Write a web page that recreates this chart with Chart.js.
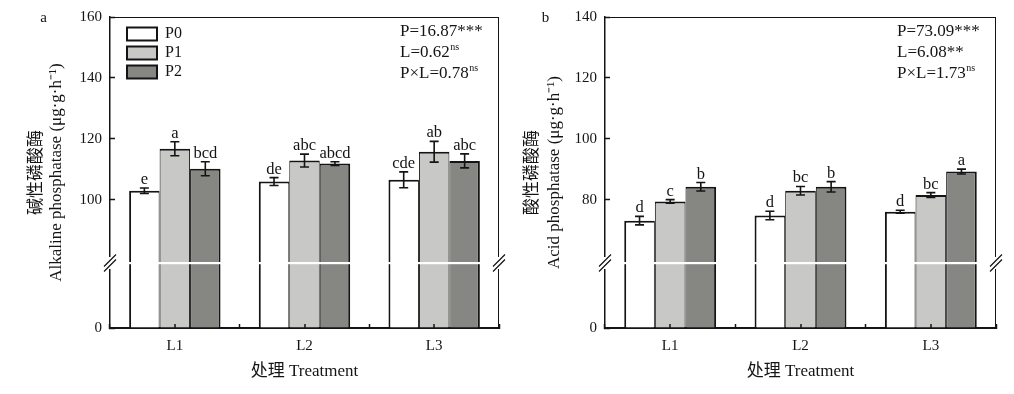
<!DOCTYPE html>
<html>
<head>
<meta charset="utf-8">
<script src="https://cdn.jsdelivr.net/npm/chart.js@4.4.0/dist/chart.umd.min.js"></script>
<style>
  html, body { margin: 0; padding: 0; background: #fff; }
  #wrap { position: relative; width: 1014px; height: 394px; }
  canvas { position: absolute; top: 0; }
  #ca { left: 0; }
  #cb { left: 507px; }
</style>
</head>
<body>
<div id="wrap">
  <canvas id="ca" width="507" height="394"></canvas>
  <canvas id="cb" width="507" height="394"></canvas>
</div>
<script>
// categories / series
const LEVELS = ['L1', 'L2', 'L3'];
const SERIES = ['P0', 'P1', 'P2'];

// panel a: alkaline phosphatase
const ALP_P0 = [103.0, 106.0, 106.6];
const ALP_P1 = [116.8, 112.9, 115.8];
const ALP_P2 = [110.2, 111.9, 112.8];
const ALP_ERR_P0 = [0.9, 1.3, 2.6];
const ALP_ERR_P1 = [2.3, 2.1, 3.4];
const ALP_ERR_P2 = [2.3, 0.6, 2.3];
const ALP_SIG_P0 = ['e', 'de', 'cde'];
const ALP_SIG_P1 = ['a', 'abc', 'ab'];
const ALP_SIG_P2 = ['bcd', 'abcd', 'abc'];
const ALP_TICKS = [100, 120, 140, 160];
const ALP_STATS = [['P=16.87***', ''], ['L=0.62', 'ns'], ['P×L=0.78', 'ns']];

// panel b: acid phosphatase
const ACP_P0 = [73.2, 74.9, 76.1];
const ACP_P1 = [79.5, 83.0, 81.6];
const ACP_P2 = [84.3, 84.3, 89.3];
const ACP_ERR_P0 = [1.4, 1.4, 0.5];
const ACP_ERR_P1 = [0.6, 1.4, 0.8];
const ACP_ERR_P2 = [1.4, 1.7, 0.8];
const ACP_SIG_P0 = ['d', 'd', 'd'];
const ACP_SIG_P1 = ['c', 'bc', 'bc'];
const ACP_SIG_P2 = ['b', 'b', 'a'];
const ACP_TICKS = [80, 100, 120, 140];
const ACP_STATS = [['P=73.09***', ''], ['L=6.08**', ''], ['P×L=1.73', 'ns']];

const LOW_TICKS = [0];
const LOW_MAX = 20;   // lower segment of the broken axis: 0 .. break

const INK = '#141414';
const FILLS = ['#ffffff', '#c8c8c6', '#868682'];
const FAMILY = "'Liberation Serif', 'Times New Roman', 'Noto Sans CJK SC', serif";
const FONT = { family: FAMILY, size: 15 };
const BIG = { family: FAMILY, size: 17 };

Chart.defaults.font.family = FAMILY;
Chart.defaults.color = INK;

// per-series border so neighbouring bars share a ~2px line
const BORDERS = [
  { top: 2, left: 2, right: 1, bottom: 0 },
  { top: 2, left: 1, right: 1, bottom: 0 },
  { top: 2, left: 1, right: 2, bottom: 0 }
];

function makeDatasets(vals, errs, sigs){
  const up = vals.map((v, i) => ({
    label: SERIES[i], data: v, yAxisID: 'y', stack: SERIES[i],
    backgroundColor: FILLS[i], borderColor: INK, borderWidth: BORDERS[i],
    errors: errs[i], sig: sigs[i]
  }));
  const low = vals.map((v, i) => ({
    label: SERIES[i] + '_low', data: v.map(d => Math.min(d, LOW_MAX)), yAxisID: 'yLow', stack: SERIES[i],
    backgroundColor: FILLS[i], borderColor: INK, borderWidth: { ...BORDERS[i], top: 0 }
  }));
  return up.concat(low);
}

// error bars, letters, frame, axis break, titles
const decor = {
  id: 'decor',
  afterLayout(chart, args, o){
    const lg = chart.legend, a = chart.chartArea;
    if (lg && o.legendAt){
      const w = lg.width, h = lg.height;
      lg.left = a.left + o.legendAt[0]; lg.right = lg.left + w;
      lg.top = a.top + o.legendAt[1]; lg.bottom = lg.top + h;
    }
  },
  afterDraw(chart, args, o){
    const { ctx, chartArea: a, scales } = chart;
    const ys = scales.y, xs = scales.x;
    ctx.save();
    ctx.strokeStyle = INK; ctx.fillStyle = INK;

    // frame top/right
    ctx.lineWidth = 1;
    ctx.beginPath();
    ctx.moveTo(a.left, a.top + 0.5); ctx.lineTo(a.right, a.top + 0.5);
    ctx.moveTo(a.right - 0.5, a.top); ctx.lineTo(a.right - 0.5, a.bottom);
    ctx.stroke();

    // small inward ticks at category centres
    ctx.lineWidth = 1.5;
    ctx.beginPath();
    LEVELS.forEach((c, i) => {
      const x = Math.round(xs.getPixelForValue(i));
      ctx.moveTo(x, a.bottom); ctx.lineTo(x, a.bottom - 4);
    });
    ctx.stroke();

    // error bars and significance letters
    chart.data.datasets.forEach((ds, di) => {
      if (ds.yAxisID !== 'y') return;
      const meta = chart.getDatasetMeta(di);
      meta.data.forEach((bar, j) => {
        const v = ds.data[j], e = ds.errors[j];
        const y1 = ys.getPixelForValue(v + e), y2 = ys.getPixelForValue(v - e);
        ctx.lineWidth = 1.6;
        ctx.beginPath();
        ctx.moveTo(bar.x, y1); ctx.lineTo(bar.x, y2);
        ctx.moveTo(bar.x - 4.5, y1); ctx.lineTo(bar.x + 4.5, y1);
        ctx.moveTo(bar.x - 4.5, y2); ctx.lineTo(bar.x + 4.5, y2);
        ctx.stroke();
        ctx.font = '16.5px ' + FAMILY;
        ctx.textAlign = 'center'; ctx.textBaseline = 'alphabetic';
        ctx.fillText(ds.sig[j], bar.x, y1 - 4);
      });
    });

    // axis break
    const yb = ys.bottom;
    ctx.fillStyle = '#fff';
    ctx.fillRect(a.left - 1, yb - 1, a.width + 2, 2.2);
    [a.left, a.right].forEach(x => {
      ctx.fillRect(x - 3, yb - 6, 6, 12);
      ctx.lineWidth = 1.2;
      ctx.beginPath();
      [-2.5, 2.5].forEach(d => {
        ctx.moveTo(x - 6, yb + 6 + d); ctx.lineTo(x + 6, yb - 6 + d);
      });
      ctx.stroke();
    });
    ctx.fillStyle = INK;

    // statistics text
    o.stats.forEach((s, i) => {
      const y = a.top + 15 + i * 21;
      ctx.font = '17px ' + FAMILY;
      ctx.textAlign = 'left'; ctx.textBaseline = 'middle';
      ctx.fillText(s[0], o.statX, y);
      if (s[1]){
        const w = ctx.measureText(s[0]).width;
        ctx.font = '10px ' + FAMILY;
        ctx.fillText(s[1], o.statX + w + 0.5, y - 6);
      }
    });

    // panel letter
    ctx.font = '15px ' + FAMILY;
    ctx.textAlign = 'center'; ctx.textBaseline = 'alphabetic';
    ctx.fillText(o.panel, o.panelX, 21.5);

    // y axis titles (two lines, rotated)
    const cy = (a.top + a.bottom) / 2;
    o.yTitle.forEach((t, i) => {
      ctx.save();
      ctx.translate(o.yTitleX[i], cy);
      ctx.rotate(-Math.PI / 2);
      ctx.textAlign = 'center'; ctx.textBaseline = 'middle';
      ctx.font = '17px ' + FAMILY;
      ctx.fillText(t, 0, 0);
      ctx.restore();
    });
    ctx.restore();
  }
};

function panel(cfg){
  const yScale = (ticks, min, max, weight, stackWeight) => ({
    type: 'linear', position: 'left', stack: 'v', stackWeight, weight,
    min, max, stacked: false,
    afterBuildTicks: s => { s.ticks = ticks.map(v => ({ value: v })); },
    afterFit: s => { s.width = cfg.axisW; s.paddingTop = 0; s.paddingBottom = 0; },
    grid: { drawOnChartArea: false, drawTicks: true, tickLength: -5, tickWidth: 1.5, tickColor: INK },
    border: { display: true, color: INK, width: 1.5 },
    ticks: { font: FONT, color: INK, padding: 13 }
  });
  return {
    type: 'bar',
    data: { labels: LEVELS, datasets: makeDatasets(cfg.vals, cfg.errs, cfg.sigs) },
    options: {
      responsive: false,
      animation: false,
      layout: { padding: { top: 17, right: cfg.padRight, bottom: 0, left: 0 } },
      datasets: { bar: { categoryPercentage: 0.705, barPercentage: 1.0 } },
      scales: {
        x: {
          type: 'category', offset: true,
          grid: { offset: true, drawOnChartArea: false, drawTicks: true, tickLength: -4, tickWidth: 1.5, tickColor: INK },
          border: { display: true, color: INK, width: 2 },
          ticks: { font: FONT, color: INK, padding: 13 },
          title: { display: true, text: '处理 Treatment', font: BIG, color: INK, padding: { top: 0, bottom: 12 } },
          afterFit: s => { s.height = 66; }
        },
        y: yScale(cfg.ticks, cfg.upMin, cfg.upMax, 1, 246),
        yLow: yScale(LOW_TICKS, 0, LOW_MAX, 0, 65)
      },
      plugins: {
        tooltip: { enabled: false },
        legend: {
          display: cfg.legend, position: 'chartArea', align: 'start',
          labels: {
            font: { family: FAMILY, size: 16 }, color: INK, boxWidth: 30, boxHeight: 13, padding: 3,
            generateLabels: ch => Chart.defaults.plugins.legend.labels.generateLabels(ch)
              .filter(it => ch.data.datasets[it.datasetIndex].yAxisID === 'y')
              .map(it => ({ ...it, lineWidth: 2 }))
          }
        },
        decor: {
          stats: cfg.stats, statX: cfg.statX, panel: cfg.panel, panelX: cfg.panelX,
          yTitle: cfg.yTitle, yTitleX: cfg.yTitleX, legendAt: cfg.legend ? [14, 6] : null
        }
      }
    },
    plugins: [decor]
  };
}

new Chart(document.getElementById('ca'), panel({
  vals: [ALP_P0, ALP_P1, ALP_P2], errs: [ALP_ERR_P0, ALP_ERR_P1, ALP_ERR_P2], sigs: [ALP_SIG_P0, ALP_SIG_P1, ALP_SIG_P2],
  ticks: ALP_TICKS, upMin: 79.3, upMax: 160, axisW: 110, padRight: 8,
  stats: ALP_STATS, statX: 400, panel: 'a', panelX: 43.5, legend: true,
  yTitle: ['碱性磷酸酶', 'Alkaline phosphatase (μg·g·h⁻¹)'], yTitleX: [37, 57]
}));

new Chart(document.getElementById('cb'), panel({
  vals: [ACP_P0, ACP_P1, ACP_P2], errs: [ACP_ERR_P0, ACP_ERR_P1, ACP_ERR_P2], sigs: [ACP_SIG_P0, ACP_SIG_P1, ACP_SIG_P2],
  ticks: ACP_TICKS, upMin: 59.3, upMax: 140, axisW: 98, padRight: 18,
  stats: ACP_STATS, statX: 390, panel: 'b', panelX: 38.5, legend: false,
  yTitle: ['酸性磷酸酶', 'Acid phosphatase (μg·g·h⁻¹)'], yTitleX: [26, 48]
}));
</script>
</body>
</html>
